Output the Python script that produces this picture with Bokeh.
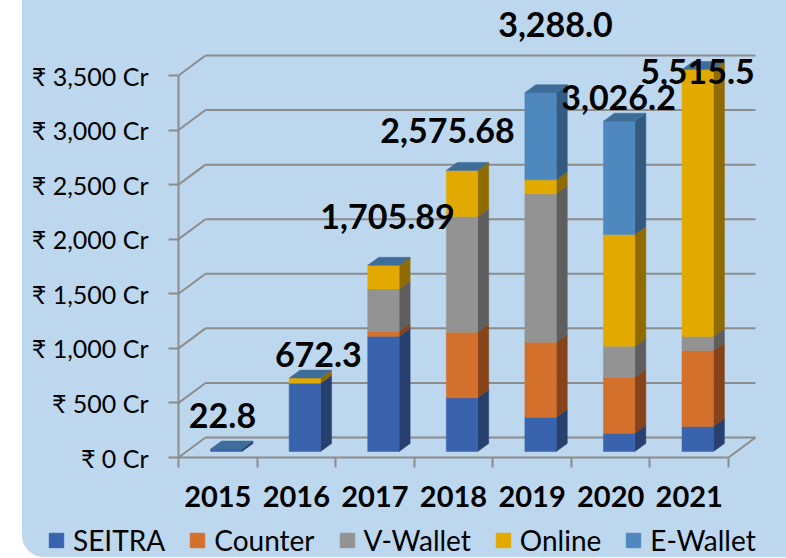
from bokeh.plotting import figure
from bokeh.models import FixedTicker, Legend, LegendItem, Range1d, Spacer
from bokeh.layouts import row, column
from bokeh.core.properties import value
from bokeh.embed import file_html
from bokeh.resources import INLINE

# ---------------- data ----------------
years = ["2015", "2016", "2017", "2018", "2019", "2020", "2021"]
series_names = ["SEITRA", "Counter", "V-Wallet", "Online", "E-Wallet"]
seitra = [22.8, 626.0, 1055.0, 492.0, 314.0, 168.0, 229.0]
counter = [0.0, 0.0, 45.0, 601.0, 687.0, 513.0, 696.0]
vwallet = [0.0, 0.0, 390.0, 1060.0, 1360.0, 284.0, 129.0]
online = [0.0, 46.3, 215.89, 422.68, 128.0, 1023.0, 4461.5]
ewallet = [0.0, 0.0, 0.0, 0.0, 799.0, 1038.2, 0.0]
total_labels = ["22.8", "672.3", "1,705.89", "2,575.68", "3,288.0", "3,026.2", "5,515.5"]
y_ticks = [0, 500, 1000, 1500, 2000, 2500, 3000, 3500]
y_tick_labels = ["₹ 0 Cr", "₹ 500 Cr", "₹ 1,000 Cr", "₹ 1,500 Cr", "₹ 2,000 Cr",
                 "₹ 2,500 Cr", "₹ 3,000 Cr", "₹ 3,500 Cr"]
Y_MAX = 3500

# ---------------- styles / layout ----------------
front_colors = ["#3A63AD", "#D2702C", "#939393", "#E2AA00", "#4F88BF"]
side_colors = ["#27406E", "#874319", "#5E5E5E", "#8F6B00", "#335B80"]
top_color = "#3F6D99"
grid_color = "#8C8C8C"
bg = "#BDD7EE"
FONT = "Lato"

# label offsets (px) relative to bar centre / bar top
LABEL_DX_PX = [4.7, 22.0, 12.6, -6.0, 23.4, 7.9, 8.3]
LABEL_DY_PX = [33.5, 23.6, 48.8, 39.9, 68.1, 23.7, -2.0]

LEFT_GAP = 22
W = 764
H1 = 520          # main chart height
H2 = 38           # legend strip height
FRAME_L = 156
FRAME_H = 457
PX_PER_CAT = 550 / 7
PX_PER_VAL = 382 / 3500


def ux(px):
    return px / PX_PER_CAT


def uy(px):
    return px / PX_PER_VAL


WX, WY = ux(27), uy(20)      # back wall depth
BX, BY = ux(8.5), uy(6)      # bar front plane offset
DX, DY = ux(11), uy(8)       # bar depth
HW = ux(15.7)                # bar half width

n = len(years)

p = figure(width=W, height=H1, output_backend="svg", toolbar_location=None,
           x_range=Range1d(0, (W - FRAME_L) / PX_PER_CAT),
           y_range=Range1d(0, FRAME_H / PX_PER_VAL),
           min_border_left=FRAME_L, min_border_right=0, min_border_top=0,
           min_border_bottom=H1 - FRAME_H)
p.background_fill_color = bg
p.border_fill_color = bg
p.outline_line_color = None
p.xgrid.visible = False
p.ygrid.visible = False
p.styles = {"background-color": bg}

# back wall gridlines and left wall diagonals
p.segment(x0=[WX] * len(y_ticks), y0=[v + WY for v in y_ticks],
          x1=[n + WX] * len(y_ticks), y1=[v + WY for v in y_ticks],
          line_color=grid_color, line_width=2)
p.segment(x0=[0] * len(y_ticks), y0=y_ticks,
          x1=[WX] * len(y_ticks), y1=[v + WY for v in y_ticks],
          line_color=grid_color, line_width=2)
# floor right edge
p.segment(x0=[n], y0=[0], x1=[n + WX], y1=[WY], line_color=grid_color, line_width=2)

# stacked 3D bars
stack = [seitra, counter, vwallet, online, ewallet]
cum = [0.0] * n
for s, vals in enumerate(stack):
    left, right, bottom, top = [], [], [], []
    sxs, sys = [], []
    for i, v in enumerate(vals):
        b = min(cum[i], Y_MAX)
        t = min(cum[i] + v, Y_MAX)
        cum[i] += v
        if t <= b:
            continue
        cx = i + 0.5 + BX
        l, r = cx - HW, cx + HW
        left.append(l); right.append(r); bottom.append(b + BY); top.append(t + BY)
        sxs.append([r, r + DX, r + DX, r])
        sys.append([b + BY, b + BY + DY, t + BY + DY, t + BY])
    p.patches(sxs, sys, fill_color=side_colors[s], line_color=side_colors[s], line_width=0.5)
    p.quad(left=left, right=right, bottom=bottom, top=top,
           fill_color=front_colors[s], line_color=front_colors[s], line_width=0.5)

# top faces
txs, tys = [], []
for i in range(n):
    T = min(cum[i], Y_MAX) + BY
    cx = i + 0.5 + BX
    l, r = cx - HW, cx + HW
    txs.append([l, r, r + DX, l + DX])
    tys.append([T, T, T + DY, T + DY])
p.patches(txs, tys, fill_color=top_color, line_color=top_color, line_width=0.5)

# total labels
lx = [i + 0.5 + ux(LABEL_DX_PX[i]) for i in range(n)]
ly = [min(cum[i], Y_MAX) + BY + uy(LABEL_DY_PX[i]) for i in range(n)]
p.text(x=lx, y=ly, text=total_labels, text_font=value(FONT), text_font_style="bold",
       text_font_size="34px", text_align="center", text_baseline="middle", text_color="black")

# y axis
ya = p.yaxis[0]
ya.ticker = FixedTicker(ticks=y_ticks)
ya.major_label_overrides = {v: lab for v, lab in zip(y_ticks, y_tick_labels)}
ya.bounds = (0, Y_MAX)
ya.axis_line_color = grid_color
ya.axis_line_width = 2
ya.major_tick_line_color = grid_color
ya.major_tick_line_width = 2
ya.major_tick_out = 10
ya.major_tick_in = 0
ya.minor_tick_line_color = None
ya.major_label_standoff = 20
ya.major_label_text_font = FONT
ya.major_label_text_font_size = "25px"
ya.major_label_text_color = "black"

# x axis
xa = p.xaxis[0]
xa.ticker = FixedTicker(ticks=[i + 0.5 for i in range(n)], minor_ticks=list(range(n + 1)))
xa.major_label_overrides = {i + 0.5: y for i, y in enumerate(years)}
xa.bounds = (0, n)
xa.axis_line_color = grid_color
xa.axis_line_width = 2
xa.major_tick_line_color = None
xa.major_tick_out = 0
xa.major_tick_in = 0
xa.minor_tick_line_color = grid_color
xa.minor_tick_line_width = 2
xa.minor_tick_out = 10
xa.minor_tick_in = 0
xa.major_label_standoff = 18
xa.major_label_text_font = FONT
xa.major_label_text_font_style = "bold"
xa.major_label_text_font_size = "29px"
xa.major_label_text_color = "black"

# legend strip (separate figure below the chart)
lf = figure(width=W, height=H2, output_backend="svg", toolbar_location=None,
            x_range=Range1d(0, 1), y_range=Range1d(0, 1),
            x_axis_type=None, y_axis_type=None,
            min_border=0, min_border_left=0, min_border_right=0,
            min_border_top=0, min_border_bottom=0)
lf.background_fill_color = bg
lf.border_fill_color = bg
lf.outline_line_color = None
lf.xgrid.visible = False
lf.ygrid.visible = False
lf.styles = {"border-bottom-left-radius": "22px", "overflow": "hidden",
             "background-color": bg, "margin-top": "-1px"}
# legend proxies: placed outside the visible range, only their swatches show
legend_renderers = [lf.quad(left=[5], right=[6], bottom=[5], top=[6], fill_color=c, line_color=c)
                    for c in front_colors]
legend = Legend(items=[LegendItem(label=nm, renderers=[r]) for nm, r in zip(series_names, legend_renderers)],
                orientation="horizontal", location=(25, 0),
                background_fill_alpha=0, border_line_color=None,
                glyph_width=18, glyph_height=18, label_standoff=8, spacing=23,
                padding=0, margin=0, label_text_font=FONT, label_text_font_size="28px",
                label_text_color="black")
lf.add_layout(legend, "center")

layout = column(row(Spacer(width=LEFT_GAP, height=H1), p),
                row(Spacer(width=LEFT_GAP, height=H2), lf))
open("out.html", "w").write(file_html(layout, INLINE))
